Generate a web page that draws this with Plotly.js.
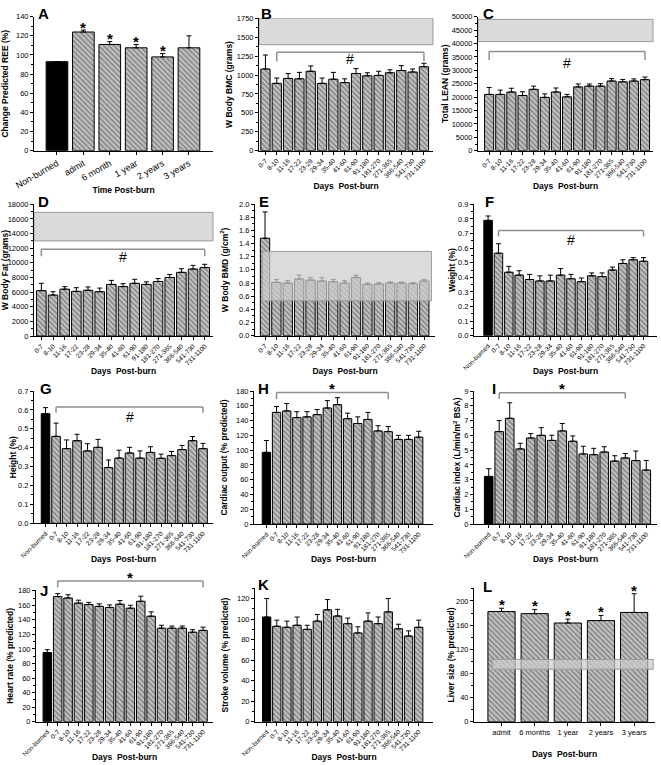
<!DOCTYPE html>
<html><head><meta charset="utf-8">
<script src="https://cdn.plot.ly/plotly-3.0.1.min.js"></script>
<style>html,body{margin:0;padding:0;background:#fff}#chart{width:661px;height:765px}</style>
</head><body><div id="chart"></div>
<script>
// ---------------- DATA ----------------
const daysCats = ['0-7','8-10','11-16','17-22','23-28','29-34','35-40','41-60','61-90','91-180','181-270','271-365','366-540','541-730','731-1100'];
const nbDaysCats = ['Non-burned'].concat(daysCats);

// A
const aCats = ['Non-burned','admit','6 month','1 year','2 years','3 years'];
const aREE = [93, 124, 111, 107.5, 98, 107.5];
const aREEerr = [0, 2, 3, 3.5, 3.5, 12.5];
const aStars = ['', '*', '*', '*', '*', ''];
// B
const bBMC = [1080, 890, 955, 950, 1050, 890, 945, 900, 1020, 990, 995, 1030, 1060, 1040, 1110];
const bBMCerr = [185, 70, 65, 85, 70, 70, 90, 50, 65, 40, 55, 40, 65, 40, 45];
const bRef = [1400, 1750];
// C
const cLean = [21000, 21000, 21900, 20600, 22900, 19900, 21900, 20100, 23800, 24100, 24100, 26000, 25700, 26000, 26500];
const cLeanErr = [2600, 1600, 1400, 1400, 1200, 1300, 1500, 900, 1100, 800, 900, 900, 900, 800, 1000];
const cRef = [40700, 49000];
// D
const dFat = [6200, 5600, 6400, 6100, 6250, 6050, 7050, 6750, 7200, 7050, 7450, 8000, 8700, 9150, 9350];
const dFatErr = [1000, 450, 350, 500, 450, 500, 550, 400, 550, 350, 400, 400, 500, 500, 450];
const dRef = [13000, 16900];
// E
const eBMD = [1.48, 0.81, 0.80, 0.86, 0.845, 0.83, 0.82, 0.80, 0.885, 0.78, 0.785, 0.80, 0.80, 0.79, 0.83];
const eBMDerr = [0.40, 0.045, 0.035, 0.06, 0.04, 0.05, 0.035, 0.035, 0.035, 0.02, 0.02, 0.015, 0.015, 0.015, 0.02];
const eRef = [0.53, 1.28];
// F
const fWeight = [0.79, 0.565, 0.435, 0.415, 0.385, 0.375, 0.375, 0.415, 0.39, 0.37, 0.41, 0.405, 0.45, 0.495, 0.52, 0.51];
const fWeightErr = [0.03, 0.065, 0.04, 0.03, 0.035, 0.035, 0.04, 0.045, 0.03, 0.025, 0.02, 0.025, 0.02, 0.025, 0.015, 0.025];
// G
const gHeight = [0.58, 0.46, 0.395, 0.437, 0.383, 0.402, 0.295, 0.345, 0.372, 0.345, 0.375, 0.344, 0.358, 0.39, 0.437, 0.395];
const gHeightErr = [0.032, 0.07, 0.046, 0.034, 0.038, 0.042, 0.04, 0.042, 0.03, 0.038, 0.03, 0.022, 0.022, 0.022, 0.022, 0.028];
// H
const hCO = [97, 151, 153, 144, 145, 148, 157, 161.5, 142.5, 136, 141.5, 126, 125, 114.5, 114.5, 117.5];
const hCOerr = [16, 8, 10, 8, 7, 7, 10, 9.5, 7.5, 9, 9.5, 7, 7, 5.5, 5.5, 8];
// I
const iCI = [3.22, 6.25, 7.15, 5.08, 5.82, 6.0, 5.66, 6.3, 5.6, 4.74, 4.69, 4.87, 4.26, 4.47, 4.29, 3.65];
const iCIerr = [0.52, 0.75, 1.05, 0.38, 0.3, 0.52, 0.35, 0.5, 0.36, 0.52, 0.43, 0.36, 0.36, 0.3, 0.65, 0.65];
// J
const jHR = [95, 172, 170, 163, 161, 158.5, 157, 161.5, 156, 165.5, 145, 128.5, 128.5, 128.5, 123, 125.5];
const jHRerr = [4, 4, 4.5, 4, 3, 3.5, 3.5, 5, 4, 7, 6, 4, 3, 3, 3.5, 4.5];
// K
const kSV = [102, 93, 92, 94, 90, 98, 109, 103, 95.5, 86.5, 98, 95.5, 107, 90.5, 83.5, 92];
const kSVerr = [18, 6, 6, 8, 4, 6.5, 10, 6.5, 5.5, 6, 8, 6.5, 13, 4.5, 5, 7];
// L
const lCats = ['admit', '6 months', '1 year', '2 years', '3 years'];
const lLiver = [182.5, 179, 163.5, 167.5, 181];
const lLiverErr = [5.5, 7, 6.5, 8.5, 31];
const lStars = ['*', '*', '*', '*', '*'];
const lRef = [87, 103];

// ---------------- LAYOUT CONFIG ----------------
const W = 661, H = 765;
const FONT = '"Liberation Sans", Arial, Helvetica, sans-serif';
const HATCH_FG = '#1c1c1c', HATCH_BG = '#c2c2c2';
const BRACKET_COLOR = '#8f8f8f';

const panels = [
  {L:'A', letter:[36,3], cats:aCats, vals:aREE, errs:aREEerr, black:true, px:[34,213,16.7,150.7], xr:[-0.87,5.91], yr:[0,140], dtick:20,
   yt:'Change Predicted REE (%)', xt:'Time Post-burn', ang:-30, xfs:9, stars:aStars, starOff:4.3},
  {L:'B', letter:[259,3], cats:daysCats, vals:bBMC, errs:bBMCerr, black:false, px:[259,433,18.3,150.7], xr:[-0.57,14.8], yr:[0,1750], dtick:250,
   yt:'W Body BMC (grams)', xt:'Days  Post-burn', ang:-45, xfs:6.5, ref:bRef, refLayer:'below',
   bracket:{from:'8-10', to:'731-1100', y:1300, drop:120, sym:'#', symY:1215}},
  {L:'C', letter:[481,3], cats:daysCats, vals:cLean, errs:cLeanErr, black:false, px:[478,653,16.7,150.7], xr:[-1.0,14.72], yr:[0,50000], dtick:5000,
   yt:'Total LEAN (grams)', xt:'Days  Post-burn', ang:-45, xfs:6.5, ref:cRef, refLayer:'below',
   bracket:{from:'0-7', to:'731-1100', y:37000, drop:3200, sym:'#', symY:32700}},
  {L:'D', letter:[36,191], cats:daysCats, vals:dFat, errs:dFatErr, black:false, px:[34,213,204.3,336], xr:[-0.63,14.71], yr:[0,18000], dtick:2000,
   yt:'W Body Fat (grams)', xt:'Days  Post-burn', ang:-45, xfs:6.5, ref:dRef, refLayer:'below',
   bracket:{from:'0-7', to:'731-1100', y:11850, drop:950, sym:'#', symY:10750}},
  {L:'E', letter:[257,191], cats:daysCats, vals:eBMD, errs:eBMDerr, black:false, px:[255,435,204,335.7], xr:[-0.88,14.94], yr:[0,2], dtick:0.2, fmt:'.1f',
   yt:'W Body BMD (g/cm<sup>2</sup>)', xt:'Days  Post-burn', ang:-45, xfs:6.5, ref:eRef, refLayer:'above', refX:[0.04,0.98]},
  {L:'F', letter:[483,191], cats:nbDaysCats, vals:fWeight, errs:fWeightErr, black:true, px:[474,657,204.3,335.7], xr:[-1.36,16.3], yr:[0,0.9], dtick:0.1, fmt:'.1f',
   yt:'Weight (%)', xt:'Days  Post-burn', ang:-45, xfs:6.5, ytStand:1,
   bracket:{from:'0-7', to:'731-1100', y:0.72, drop:0.04, sym:'#', symY:0.655}},
  {L:'G', letter:[38,378], cats:nbDaysCats, vals:gHeight, errs:gHeightErr, black:true, px:[34,213,391,523.3], xr:[-1.1,15.95], yr:[0,0.7], dtick:0.1, fmt:'.1f',
   yt:'Height (%)', xt:'Days  Post-burn', ang:-45, xfs:6.5, ytStand:0,
   bracket:{from:'0-7', to:'731-1100', y:0.615, drop:0.03, sym:'#', symY:0.56}},
  {L:'H', letter:[256,378], cats:nbDaysCats, vals:hCO, errs:hCOerr, black:true, px:[254,433,391,524], xr:[-1.22,16.41], yr:[0,180], dtick:20,
   yt:'Cardiac output (% predicted)', xt:'Days  Post-burn', ang:-45, xfs:6.5,
   bracket:{from:'0-7', to:'271-365', y:178, drop:9, sym:'*', symY:187}},
  {L:'I', letter:[490,378], cats:nbDaysCats, vals:iCI, errs:iCIerr, black:true, px:[474,657,391,524], xr:[-1.4,16.02], yr:[0,9], dtick:1,
   yt:'Cardiac index (L/min/m<sup>2</sup> BSA)', xt:'Days  Post-burn', ang:-45, xfs:6.5, ytStand:1.5,
   bracket:{from:'0-7', to:'366-540', y:8.88, drop:0.4, sym:'*', symY:9.34}},
  {L:'J', letter:[38,580], cats:nbDaysCats, vals:jHR, errs:jHRerr, black:true, px:[36,213,590,721.7], xr:[-1.09,15.96], yr:[0,181], dtick:20,
   yt:'Heart rate (% predicted)', xt:'Days  Post-burn', ang:-45, xfs:6.5, ytStand:2.5,
   bracket:{from:'0-7', to:'731-1100', y:193.5, drop:9, sym:'*', symY:202}},
  {L:'K', letter:[256,574], cats:nbDaysCats, vals:kSV, errs:kSVerr, black:true, px:[255,433,588.3,721.7], xr:[-1.15,16.41], yr:[0,130], dtick:20,
   yt:'Stroke volume (% predicted)', xt:'Days  Post-burn', ang:-45, xfs:6.5},
  {L:'L', letter:[481,576], cats:lCats, vals:lLiver, errs:lLiverErr, black:false, px:[474,655,588.3,721.7], xr:[-0.83,4.63], yr:[0,221], dtick:40,
   yt:'Liver size (% predicted)', xt:'Days  Post-burn', ang:0, xfs:7.5, ytStand:0, stars:lStars, starOff:5, ref:lRef, refLayer:'above', refX:[0.10,0.99]}
];

const traces = [];
const layout = {
  width: W, height: H, margin: {l:0, r:0, t:0, b:0},
  paper_bgcolor: '#fff', plot_bgcolor: 'rgba(0,0,0,0)',
  showlegend: false, bargap: 0.18,
  font: {family: FONT, color: '#000', size: 8},
  shapes: [], annotations: []
};

function symbolAnn(xs, ys, xIdx, frac, sym) {
  const star = sym === '*';
  return {
    xref: xs, yref: ys + ' domain', x: xIdx, y: frac, text: star ? '<b>*</b>' : sym,
    showarrow: false, xanchor: 'center', yanchor: 'middle', yshift: star ? -3 : 0,
    font: {family: FONT, size: star ? 15 : 14, color: '#000'}
  };
}

panels.forEach((p, k) => {
  const n = k + 1;
  const xs = 'x' + n, ys = 'y' + n;
  const xa = 'xaxis' + n, ya = 'yaxis' + n;
  const frac = v => (v - p.yr[0]) / (p.yr[1] - p.yr[0]);
  const colors = p.cats.map((c, j) => (p.black && j === 0) ? '#000' : HATCH_BG);
  const shapes = p.cats.map((c, j) => (p.black && j === 0) ? '' : '\\');
  traces.push({
    type: 'bar', x: p.cats, y: p.vals, xaxis: xs, yaxis: ys,
    marker: {color: colors, line: {color: '#000', width: 1},
             pattern: {shape: shapes, fgcolor: HATCH_FG, size: 3.6, solidity: 0.4, fillmode: 'overlay'}},
    error_y: {type: 'data', symmetric: false, array: p.errs, arrayminus: p.errs.map(() => 0),
              color: '#000', thickness: 1, width: 2.5},
    hoverinfo: 'skip'
  });
  if (p.bracket) {
    const b = p.bracket;
    const i0 = p.cats.indexOf(b.from), i1 = p.cats.indexOf(b.to);
    const yTop = frac(b.y), yLow = frac(b.y - b.drop);
    const ln = {color: BRACKET_COLOR, width: 1.5};
    layout.shapes.push(
      {type: 'line', xref: xs, yref: ys + ' domain', x0: i0, x1: i1, y0: yTop, y1: yTop, line: ln, layer: 'above'},
      {type: 'line', xref: xs, yref: ys + ' domain', x0: i0, x1: i0, y0: yLow, y1: yTop, line: ln, layer: 'above'},
      {type: 'line', xref: xs, yref: ys + ' domain', x0: i1, x1: i1, y0: yLow, y1: yTop, line: ln, layer: 'above'}
    );
    layout.annotations.push(symbolAnn(xs, ys, (i0 + i1) / 2, frac(b.symY), b.sym));
  }
  if (p.stars) {
    const range = p.yr[1] - p.yr[0];
    p.stars.forEach((s, j) => {
      if (s) layout.annotations.push(symbolAnn(xs, ys, j, frac(p.vals[j] + p.errs[j] + range * p.starOff / 100), s));
    });
  }
  if (p.ref) {
    const rx = p.refX || [0, 1];
    const above = p.refLayer === 'above';
    layout.shapes.push({
      type: 'rect', xref: xs + ' domain', yref: ys, x0: rx[0], x1: rx[1], y0: p.ref[0], y1: p.ref[1],
      fillcolor: above ? 'rgba(205,205,205,0.72)' : '#dadada',
      line: {color: '#9a9a9a', width: 1}, layer: above ? 'above' : 'below'
    });
  }
  layout[xa] = {
    domain: [p.px[0] / W, p.px[1] / W], anchor: ys, type: 'category', range: p.xr,
    categoryorder: 'array', categoryarray: p.cats,
    showline: true, linecolor: '#000', linewidth: 1, mirror: false,
    ticks: 'outside', ticklen: 3, tickwidth: 1, tickcolor: '#000',
    tickangle: p.ang, tickfont: {family: FONT, size: p.xfs, color: '#000'},
    showgrid: false, zeroline: false, fixedrange: true,
    title: {text: '<b>' + p.xt + '</b>', font: {family: FONT, size: 8.5, color: '#000'}}
  };
  const ytitle = {text: '<b>' + p.yt + '</b>', font: {family: FONT, size: 8.5, color: '#000'}};
  if (p.ytStand !== undefined) ytitle.standoff = p.ytStand;
  layout[ya] = {
    domain: [1 - p.px[3] / H, 1 - p.px[2] / H], anchor: xs, range: p.yr,
    showline: true, linecolor: '#000', linewidth: 1,
    ticks: 'outside', ticklen: 3, tickwidth: 1, tickcolor: '#000',
    tick0: 0, dtick: p.dtick, tickformat: p.fmt || 'd', exponentformat: 'none',
    minor: {dtick: p.dtick / 2, tick0: 0, ticks: 'outside', ticklen: 2, tickcolor: '#000', tickwidth: 1},
    tickfont: {family: FONT, size: 7.5, color: '#000'},
    showgrid: false, zeroline: false, fixedrange: true,
    title: ytitle
  };
  layout.annotations.push({
    xref: 'paper', yref: 'paper', x: p.letter[0] / W, y: 1 - p.letter[1] / H,
    xanchor: 'left', yanchor: 'top', showarrow: false, text: '<b>' + p.L + '</b>',
    font: {family: FONT, size: 15, color: '#000'}
  });
});

Plotly.newPlot('chart', traces, layout, {staticPlot: true, displayModeBar: false});
</script>
</body></html>
